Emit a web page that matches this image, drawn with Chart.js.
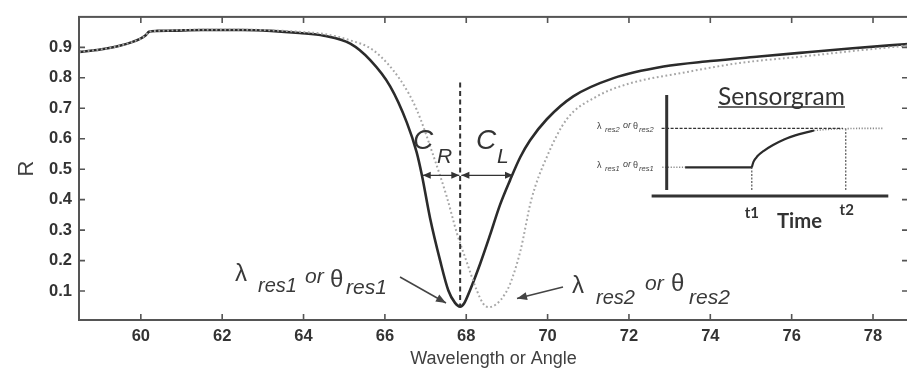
<!DOCTYPE html>
<html><head><meta charset="utf-8">
<script src="https://cdn.jsdelivr.net/npm/chart.js@4"></script>
<style>
html,body{margin:0;padding:0;background:#fff;overflow:hidden;width:907px;height:370px}
#wrap{position:absolute;left:0;top:0;width:912px;height:370px}
#inset{position:absolute;left:590px;top:80px;width:310px;height:155px}
</style></head><body>
<div id="wrap"><canvas id="main"></canvas></div>
<div id="inset"><canvas id="sg"></canvas></div>
<script>
// ---------- data ----------
const xTicks = [60, 62, 64, 66, 68, 70, 72, 74, 76, 78];
const xTickLabels = ['60', '62', '64', '66', '68', '70', '72', '74', '76', '78'];
const yTicks = [0.1, 0.2, 0.3, 0.4, 0.5, 0.6, 0.7, 0.8, 0.9];
const yTickLabels = ['0.1', '0.2', '0.3', '0.4', '0.5', '0.6', '0.7', '0.8', '0.9'];

// reference resonance curve (solid)
const solidX = [58.48, 59.0, 59.5, 59.98, 60.12, 60.2, 60.4, 60.8, 61.5, 62.5, 63.2, 63.9, 64.5, 65.15, 65.64, 66.13, 66.54, 66.78, 66.91, 67.11, 67.36, 67.56, 67.72, 67.85, 67.95, 68.09, 68.34, 68.59, 68.83, 69.08, 69.33, 69.57, 69.98, 70.63, 71.62, 72.85, 74.0, 75.2, 76.2, 77.5, 78.86];
const solidR = [0.885, 0.893, 0.906, 0.928, 0.94, 0.951, 0.954, 0.955, 0.957, 0.957, 0.954, 0.947, 0.938, 0.912, 0.858, 0.772, 0.653, 0.556, 0.480, 0.340, 0.199, 0.102, 0.062, 0.049, 0.060, 0.102, 0.189, 0.286, 0.383, 0.465, 0.540, 0.595, 0.664, 0.739, 0.799, 0.837, 0.855, 0.870, 0.882, 0.897, 0.911];

// shifted resonance curve (dotted)
const shiftX = [58.48, 59.0, 59.5, 59.98, 60.12, 60.2, 60.4, 60.8, 61.5, 62.5, 63.2, 63.9, 64.49, 65.1, 65.72, 66.38, 66.78, 67.19, 67.52, 67.77, 68.0, 68.26, 68.42, 68.55, 68.75, 68.95, 69.08, 69.33, 69.6, 69.98, 70.47, 71.21, 72.03, 73.26, 74.73, 76.2, 77.5, 78.86];
const shiftR = [0.885, 0.893, 0.906, 0.928, 0.94, 0.951, 0.954, 0.956, 0.958, 0.958, 0.956, 0.951, 0.944, 0.925, 0.890, 0.793, 0.696, 0.545, 0.410, 0.290, 0.200, 0.102, 0.058, 0.047, 0.058, 0.090, 0.124, 0.231, 0.400, 0.540, 0.664, 0.739, 0.782, 0.815, 0.849, 0.869, 0.888, 0.906];

// resonance position and widths
const res1 = 67.85;
const crRange = [66.93, 67.83];
const clRange = [67.88, 69.15];
const widthLevel = 0.48;
const dashedTop = 0.785;

// sensorgram inset (time, response in arbitrary units)
const sgLeadT = [-0.2, 0.83];      const sgLeadV = [2.84, 2.84];
const sgFlatT = [0.83, 3.84];      const sgFlatV = [2.84, 2.84];
const sgRiseT = [3.84, 3.92, 4.1, 4.4, 4.8, 5.3, 5.8, 6.3, 6.65];
const sgRiseV = [2.84, 3.4, 3.95, 4.5, 5.05, 5.6, 6.0, 6.3, 6.48];
const sgTailT = [6.65, 7.3, 8.0, 9.0, 9.8];
const sgTailV = [6.48, 6.6, 6.66, 6.7, 6.7];
const sgLevel2T = [-0.23, 7.95];   const sgLevel2V = [6.7, 6.7];
const sgT1 = 3.84, sgT2 = 8.08, sgBase = 0.6;

// ---------- helpers ----------
const F = '"Liberation Sans", Arial, sans-serif';
const FI = '"Lato", "Open Sans", sans-serif';
const pts = (xs, ys) => xs.map((v, i) => ({x: v, y: ys[i]}));

function arrowHead(ctx, x1, y1, x2, y2, len, hw) {
  const a = Math.atan2(y2 - y1, x2 - x1);
  ctx.beginPath();
  ctx.moveTo(x2, y2);
  ctx.lineTo(x2 - len * Math.cos(a) + hw * Math.sin(a), y2 - len * Math.sin(a) - hw * Math.cos(a));
  ctx.lineTo(x2 - len * Math.cos(a) - hw * Math.sin(a), y2 - len * Math.sin(a) + hw * Math.cos(a));
  ctx.closePath();
  ctx.fill();
}
function arrow(ctx, x1, y1, x2, y2, len, hw, both) {
  ctx.beginPath(); ctx.moveTo(x1, y1); ctx.lineTo(x2, y2); ctx.stroke();
  arrowHead(ctx, x1, y1, x2, y2, len, hw);
  if (both) arrowHead(ctx, x2, y2, x1, y1, len, hw);
}
function rich(ctx, segs) {
  ctx.textAlign = 'left'; ctx.textBaseline = 'alphabetic';
  segs.forEach(s => { ctx.font = s[0]; ctx.fillText(s[1], s[2], s[3]); });
}

// ---------- main chart plugins ----------
const framePlugin = {
  id: 'frame',
  afterDraw(chart) {
    const {ctx, chartArea: a, scales: {x, y}} = chart;
    ctx.save();
    ctx.strokeStyle = '#555'; ctx.lineWidth = 2;
    ctx.strokeRect(a.left, a.top, a.right - a.left, a.bottom - a.top);
    ctx.lineWidth = 1.6;
    ctx.beginPath();
    xTicks.forEach(v => {
      const px = x.getPixelForValue(v);
      ctx.moveTo(px, a.bottom); ctx.lineTo(px, a.bottom - 6);
      ctx.moveTo(px, a.top); ctx.lineTo(px, a.top + 6);
    });
    yTicks.forEach(v => {
      const py = y.getPixelForValue(v);
      ctx.moveTo(a.left, py); ctx.lineTo(a.left + 6, py);
      ctx.moveTo(a.right, py); ctx.lineTo(a.right - 6, py);
    });
    ctx.stroke();
    ctx.restore();
  }
};

const annoPlugin = {
  id: 'anno',
  afterDatasetsDraw(chart) {
    const {ctx, scales: {x, y}} = chart;
    ctx.save();
    ctx.strokeStyle = '#333'; ctx.fillStyle = '#333';
    ctx.lineWidth = 2; ctx.setLineDash([5, 3.5]);
    ctx.beginPath();
    ctx.moveTo(x.getPixelForValue(res1), y.getPixelForValue(dashedTop));
    ctx.lineTo(x.getPixelForValue(res1), y.getPixelForValue(0.05));
    ctx.stroke();
    ctx.setLineDash([]);
    const wy = y.getPixelForValue(widthLevel);
    ctx.lineWidth = 1.3;
    arrow(ctx, x.getPixelForValue(crRange[0]), wy, x.getPixelForValue(crRange[1]), wy, 8, 3.5, true);
    arrow(ctx, x.getPixelForValue(clRange[0]), wy, x.getPixelForValue(clRange[1]), wy, 8, 3.5, true);
    ctx.fillStyle = '#333';
    rich(ctx, [
      ['italic 28px ' + F, 'C', 413, 149],
      ['italic 21px ' + F, 'R', 437, 163],
      ['italic 28px ' + F, 'C', 476, 149],
      ['italic 21px ' + F, 'L', 497, 163]
    ]);
    ctx.fillStyle = '#3a3a3a';
    rich(ctx, [
      ['24px ' + F, 'λ', 235, 281],
      ['italic 20px ' + F, 'res1', 258, 292],
      ['italic 21px ' + F, 'or', 305, 283],
      ['24px ' + F, 'θ', 330, 287],
      ['italic 21px ' + F, 'res1', 346, 294],
      ['24px ' + F, 'λ', 572, 293],
      ['italic 20px ' + F, 'res2', 596, 304],
      ['italic 21px ' + F, 'or', 645, 290],
      ['24px ' + F, 'θ', 671, 291],
      ['italic 21px ' + F, 'res2', 689, 304]
    ]);
    ctx.strokeStyle = '#444'; ctx.fillStyle = '#444'; ctx.lineWidth = 1.5;
    arrow(ctx, 400, 277, 446, 303, 10, 4, false);
    arrow(ctx, 563, 287, 517, 298.5, 10, 4, false);
    ctx.restore();
  }
};

new Chart(document.getElementById('main'), {
  type: 'line',
  data: {
    datasets: [
      {data: pts(shiftX, shiftR), borderColor: '#a6a6a6', borderWidth: 2, borderDash: [1.8, 2.6], pointRadius: 0, cubicInterpolationMode: 'monotone'},
      {data: pts(solidX, solidR), borderColor: '#2b2b2b', borderWidth: 2.6, pointRadius: 0, cubicInterpolationMode: 'monotone'}
    ]
  },
  options: {
    responsive: true, maintainAspectRatio: false, animation: false, devicePixelRatio: 1,
    layout: {padding: {left: 0, right: 4, top: 13, bottom: 0}},
    plugins: {legend: {display: false}, tooltip: {enabled: false}},
    scales: {
      x: {
        type: 'linear', min: 58.48, max: 78.86,
        grid: {display: false, drawTicks: false}, border: {display: false},
        afterBuildTicks: s => { s.ticks = xTicks.map(v => ({value: v})); },
        afterFit: s => { s.height = 50; },
        ticks: {padding: 7, color: '#333', font: {family: F, size: 16.5, weight: 'bold'},
          callback: (v) => xTickLabels[xTicks.indexOf(v)]},
        title: {display: true, text: 'Wavelength or Angle', color: '#404040', font: {family: F, size: 18}, padding: {top: 0, bottom: 0}}
      },
      y: {
        type: 'linear', min: 0.005, max: 1.0,
        grid: {display: false, drawTicks: false}, border: {display: false},
        afterBuildTicks: s => { s.ticks = yTicks.map(v => ({value: v})); },
        afterFit: s => { s.width = 79; },
        ticks: {padding: 7, color: '#333', font: {family: F, size: 16.5, weight: 'bold'},
          callback: (v) => yTickLabels[yTicks.indexOf(v)]},
        title: {display: true, text: 'R', color: '#404040', font: {family: F, size: 22}, padding: {top: 14, bottom: 0}}
      }
    }
  },
  plugins: [framePlugin, annoPlugin]
});

// ---------- sensorgram inset ----------
const sgPlugin = {
  id: 'sgdeco',
  afterDraw(chart) {
    const {ctx, chartArea: a, scales: {x, y}} = chart;
    ctx.save();
    ctx.strokeStyle = '#333'; ctx.lineWidth = 3;
    ctx.beginPath();
    ctx.moveTo(a.left, a.top); ctx.lineTo(a.left, y.getPixelForValue(sgBase));
    ctx.moveTo(x.getPixelForValue(-0.68), a.bottom); ctx.lineTo(a.right, a.bottom);
    ctx.stroke();
    ctx.fillStyle = '#333';
    let fs = 20; ctx.font = `${fs}px ${FI}`;
    fs = fs * 127 / ctx.measureText('Sensorgram').width;
    ctx.font = `${fs}px ${FI}`;
    ctx.textAlign = 'left'; ctx.textBaseline = 'alphabetic';
    ctx.fillText('Sensorgram', 128, 25);
    ctx.lineWidth = 1.5;
    ctx.beginPath(); ctx.moveTo(128, 27); ctx.lineTo(255, 27); ctx.stroke();
    let ft = 20; ctx.font = `bold ${ft}px ${FI}`;
    ft = ft * 45 / ctx.measureText('Time').width;
    ctx.font = `bold ${ft}px ${FI}`;
    ctx.fillText('Time', 187, 148);
    ctx.font = `bold 15px ${FI}`;
    ctx.textAlign = 'center';
    ctx.fillText('t1', x.getPixelForValue(sgT1), 138);
    ctx.fillText('t2', x.getPixelForValue(sgT2) + 1, 135);
    ctx.fillStyle = '#444';
    const lab = (by, n) => rich(ctx, [
      ['9px ' + F, 'λ', 7, by],
      ['italic 7.5px ' + F, 'res' + n, 15, by + 3],
      ['italic 9px ' + F, 'or', 33, by - 1],
      ['9px ' + F, 'θ', 43, by],
      ['italic 7.5px ' + F, 'res' + n, 49, by + 3]
    ]);
    lab(y.getPixelForValue(sgLevel2V[0]) + 1, 2);
    lab(y.getPixelForValue(sgFlatV[0]) + 1, 1);
    ctx.restore();
  }
};

new Chart(document.getElementById('sg'), {
  type: 'line',
  data: {
    datasets: [
      {data: pts(sgLevel2T, sgLevel2V), borderColor: '#333', borderWidth: 1.4, borderDash: [3, 1.5], pointRadius: 0, clip: false},
      {data: pts(sgTailT, sgTailV), borderColor: '#8a8a8a', borderWidth: 1.6, borderDash: [1.2, 1.6], pointRadius: 0, clip: false, cubicInterpolationMode: 'monotone'},
      {data: pts(sgLeadT, sgLeadV), borderColor: '#8a8a8a', borderWidth: 1.6, borderDash: [1.2, 1.6], pointRadius: 0, clip: false},
      {data: pts(sgFlatT, sgFlatV), borderColor: '#2b2b2b', borderWidth: 2.2, pointRadius: 0, clip: false},
      {data: pts(sgRiseT, sgRiseV), borderColor: '#2b2b2b', borderWidth: 2.2, pointRadius: 0, clip: false, cubicInterpolationMode: 'monotone'},
      {data: [{x: sgT1, y: sgBase}, {x: sgT1, y: sgFlatV[0]}], borderColor: '#555', borderWidth: 1.2, borderDash: [2, 1.5], pointRadius: 0, clip: false},
      {data: [{x: sgT2, y: sgBase}, {x: sgT2, y: sgLevel2V[0]}], borderColor: '#555', borderWidth: 1.2, borderDash: [2, 1.5], pointRadius: 0, clip: false}
    ]
  },
  options: {
    responsive: true, maintainAspectRatio: false, animation: false, devicePixelRatio: 1,
    layout: {padding: {left: 76.7, right: 11.7, top: 15, bottom: 39}},
    plugins: {legend: {display: false}, tooltip: {enabled: false}},
    scales: {
      x: {type: 'linear', min: 0, max: 10, display: false},
      y: {type: 'linear', min: 0, max: 10, display: false}
    }
  },
  plugins: [sgPlugin]
});
</script>
</body></html>
